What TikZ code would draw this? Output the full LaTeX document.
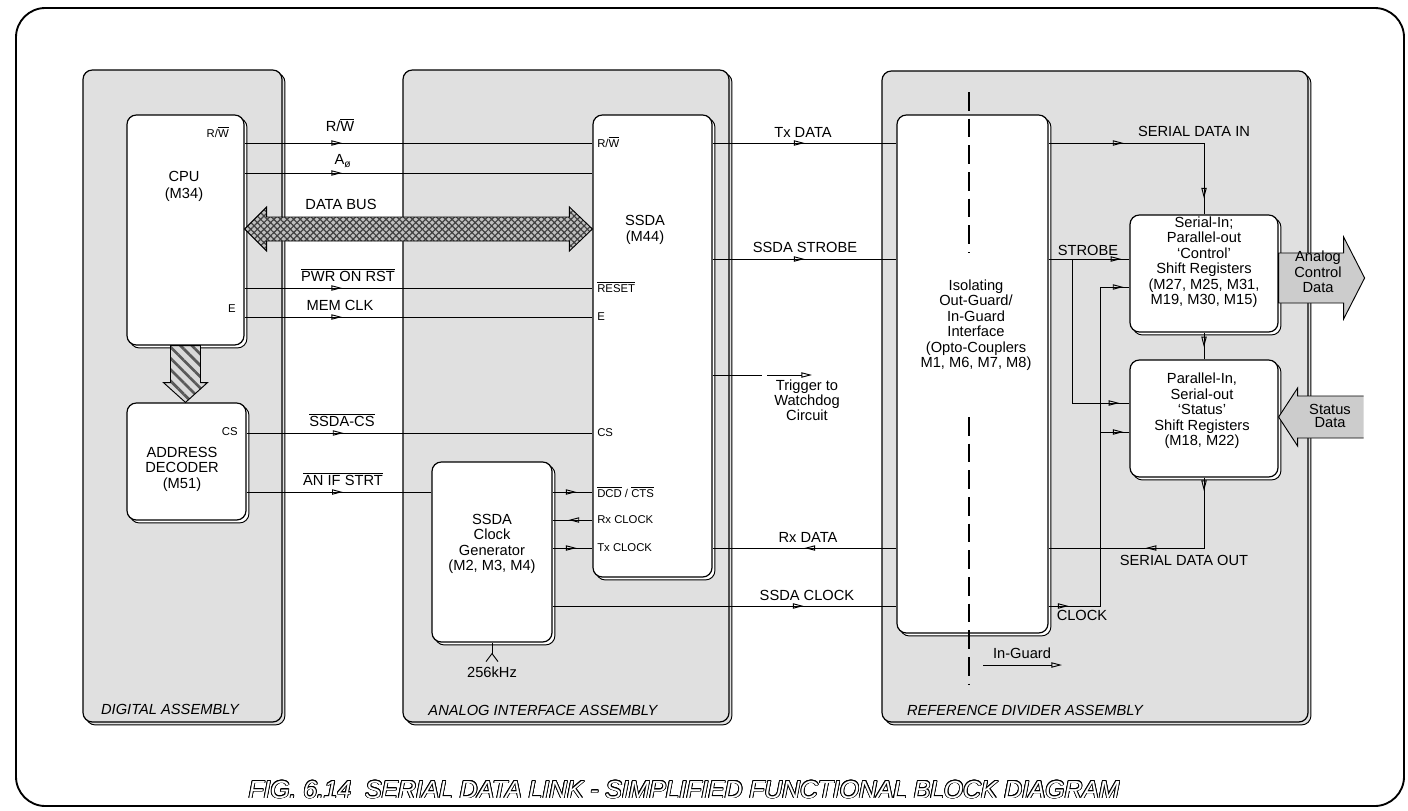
\documentclass[tikz,border=0pt]{standalone}
\usepackage{fontspec}
\setmainfont{Liberation Sans}
\usepackage{contour}
\usetikzlibrary{arrows.meta,decorations.markings,patterns,patterns.meta,shadows,calc}
\newcommand\ovl[1]{$\overline{\mbox{#1}}$}
\contourlength{0.6pt}
\begin{document}
\begin{tikzpicture}[x=0.75pt,y=-0.75pt,
  panel/.style={draw,line width=0.9pt,fill=black!12,rounded corners=7pt,inner sep=0pt,
    general shadow={shadow xshift=2.2pt,shadow yshift=-2.2pt,draw=black,line width=0.7pt,fill=black!12}},
  box/.style={draw,line width=0.9pt,fill=white,rounded corners=7pt,inner sep=0pt,
    general shadow={shadow xshift=2.2pt,shadow yshift=-2.2pt,draw=black,line width=0.7pt,fill=white}},
  conn/.style={line width=0.7pt},
  >={Triangle[open,length=8pt,width=4pt]},
  marr/.style={postaction={decorate,decoration={markings,mark=at position #1 with {\arrow{>}}}}},
  lbl/.style={font=\fontsize{11}{11}\selectfont,inner sep=0pt},
  pin/.style={font=\fontsize{8.5}{9}\selectfont,inner sep=0pt},
  boxtxt/.style={font=\fontsize{11}{11.6}\selectfont,align=center,inner sep=0pt},
  plabel/.style={font=\fontsize{11}{11}\selectfont\itshape,inner sep=0pt},
  gline/.style={line width=0.9pt,dash pattern=on 14pt off 6pt},
  bigarrow/.style={draw,line width=0.7pt,fill=black!20},
]
\useasboundingbox (0,0) rectangle (1408,810);
% outer frame
\draw[line width=1.4pt,rounded corners=22pt] (16,8) rectangle (1404,806);

% panels
\node[panel,minimum width=149.25pt,minimum height=489pt] (dig) at (182.5,396) {};
\node[panel,minimum width=244.5pt,minimum height=489pt] (ana) at (566,396) {};
\node[panel,minimum width=319.5pt,minimum height=488.25pt] (ref) at (1095,396.5) {};

% boxes
\node[box,minimum width=87.75pt,minimum height=172.5pt] (cpu) at (185.5,230) {};
\node[box,minimum width=89.25pt,minimum height=87.75pt] (addr) at (186.5,461.5) {};
\node[box,minimum width=89.25pt,minimum height=346.5pt] (ssda) at (652.5,346) {};
\node[box,minimum width=90pt,minimum height=135pt] (clk) at (492,552) {};
\node[box,minimum width=113.25pt,minimum height=388.5pt] (iso) at (972.5,374) {};
\node[box,minimum width=111pt,minimum height=87.75pt] (ctrl) at (1204,273.5) {};
\node[box,minimum width=111pt,minimum height=87.75pt] (stat) at (1204,418.5) {};

% level coordinates
\coordinate (yRW) at (0,143);
\coordinate (yA) at (0,173);
\coordinate (yBUS) at (0,229);
\coordinate (yPWR) at (0,288);
\coordinate (yMEM) at (0,317);
\coordinate (yCS) at (0,433);
\coordinate (yAN) at (0,492);
\coordinate (yRxC) at (0,520);
\coordinate (yTxC) at (0,548);
\coordinate (ySTR) at (0,259);
\coordinate (yTRIG) at (0,375);
\coordinate (yRxD) at (0,548);
\coordinate (ySCLK) at (0,606);
\coordinate (yST2) at (0,403);
\coordinate (yCS2) at (0,432);
\coordinate (yACD) at (0,278);
\coordinate (ySD) at (0,417);
\coordinate (strJ) at (1072,259);
\coordinate (cv) at (1100,287);
\coordinate (trigA) at (762,375);
\coordinate (trigB) at (767,375);
\coordinate (trigEnd) at (812,375);
\coordinate (ig1) at (983,665);
\coordinate (ig2) at (1062,665);
\coordinate (d1) at (969,92);
\coordinate (d2) at (969,253);
\coordinate (d3) at (969,417);
\coordinate (d4) at (969,685);

% hatched arrow CPU -> address decoder
\draw[line width=0.7pt,preaction={fill=black!15},pattern={Lines[angle=-45,distance=6pt,line width=2pt]},pattern color=black!65]
  ($(cpu.south)+(-15,0)$) -- ($(cpu.south)+(15,0)$) -- ($(cpu.south)+(15,37)$) -- ($(cpu.south)+(22,37)$)
  -- (cpu.south |- addr.north) -- ($(cpu.south)+(-22,37)$) -- ($(cpu.south)+(-15,37)$) -- cycle;

% data bus double arrow
\coordinate (busL) at (cpu.east |- yBUS);
\coordinate (busR) at (ssda.west |- yBUS);
\draw[line width=0.7pt,preaction={fill=black!25},pattern={Hatch[angle=45,distance=3.5pt,line width=0.9pt]},pattern color=black!75]
  (busL) -- ($(busL)+(22,-22)$) -- ($(busL)+(22,-12)$) -- ($(busR)+(-23,-12)$) -- ($(busR)+(-23,-22)$)
  -- (busR) -- ($(busR)+(-23,22)$) -- ($(busR)+(-23,12)$) -- ($(busL)+(22,12)$) -- ($(busL)+(22,22)$) -- cycle;

% analog control data arrow
\coordinate (acd) at (ctrl.east |- yACD);
\draw[bigarrow] ($(acd)+(0,-25)$) -- ($(acd)+(65,-25)$) -- ($(acd)+(65,-41)$) -- ($(acd)+(86,0)$)
  -- ($(acd)+(65,41)$) -- ($(acd)+(65,25)$) -- ($(acd)+(0,25)$) -- cycle;
% status data arrow
\coordinate (sdt) at (stat.east |- ySD);
\fill[black!20] (sdt) -- ($(sdt)+(19,-29)$) -- ($(sdt)+(19,-21)$) -- ($(sdt)+(85,-21)$) -- ($(sdt)+(85,21)$)
  -- ($(sdt)+(19,21)$) -- ($(sdt)+(19,29)$) -- cycle;
\draw[line width=0.7pt] ($(sdt)+(85,-21)$) -- ($(sdt)+(19,-21)$) -- ($(sdt)+(19,-29)$) -- (sdt)
  -- ($(sdt)+(19,29)$) -- ($(sdt)+(19,21)$) -- ($(sdt)+(85,21)$);

% connectors: digital -> analog
\draw[conn,marr=0.28] (cpu.east |- yRW) -- (ssda.west |- yRW);
\draw[conn,marr=0.28] (cpu.east |- yA) -- (ssda.west |- yA);
\draw[conn,marr=0.28] (cpu.east |- yPWR) -- (ssda.west |- yPWR);
\draw[conn,marr=0.28] (cpu.east |- yMEM) -- (ssda.west |- yMEM);
\draw[conn,marr=0.28] (addr.east |- yCS) -- (ssda.west |- yCS);
\draw[conn,marr=0.52] (addr.east |- yAN) -- (clk.west |- yAN);
\draw[conn,marr=0.6] (clk.east |- yAN) -- (ssda.west |- yAN);
\draw[conn,marr=0.6] (ssda.west |- yRxC) -- (clk.east |- yRxC);
\draw[conn,marr=0.6] (clk.east |- yTxC) -- (ssda.west |- yTxC);
% analog -> reference
\draw[conn,marr=0.5] (ssda.east |- yRW) -- (iso.west |- yRW);
\draw[conn,marr=0.5] (ssda.east |- ySTR) -- (iso.west |- ySTR);
\draw[conn] (ssda.east |- yTRIG) -- (trigA);
\draw[conn,->] (trigB) -- (trigEnd);
\draw[conn,marr=0.5] (iso.west |- yRxD) -- (ssda.east |- yRxD);
\draw[conn,marr=0.73] (clk.east |- ySCLK) -- (iso.west |- ySCLK);
% 256 kHz input
\draw[conn] (clk.south) -- ($(clk.south)+(0,11)$);
\draw[conn] ($(clk.south)+(-6,19)$) -- ($(clk.south)+(0,11)$) -- ($(clk.south)+(6,19)$);
% reference side
\draw[conn,marr=0.33,marr=0.93] (iso.east |- yRW) -| (ctrl.north);
\draw[conn,marr=0.9] (iso.east |- ySTR) -- (ctrl.west |- ySTR);
\draw[conn,marr=0.95] (strJ) |- (stat.west |- yST2);
\draw[conn,marr=0.05,marr=0.985] (iso.east |- ySCLK) -| (cv) -- (ctrl.west |- cv);
\draw[conn,marr=0.8] (cv |- yCS2) -- (stat.west |- yCS2);
\draw[conn,marr=0.55] (ctrl.south) -- (stat.north);
\draw[conn,marr=0.06,marr=0.57] (stat.south) |- (iso.east |- yRxD);
\draw[conn,->] (ig1) -- (ig2);
% guard line
\draw[gline] (d1) -- (d2);
\draw[gline] (d3) -- (d4);

% box texts
\node[boxtxt,font=\fontsize{11}{12.8}\selectfont] (tCPU) at (184,186) {CPU\\(M34)};
\node[boxtxt] (tADDR) at (182,469) {ADDRESS\\DECODER\\(M51)};
\node[boxtxt] (tSSDA) at (645,230) {SSDA\\(M44)};
\node[boxtxt] (tCLK) at (492,544) {SSDA\\Clock\\Generator\\(M2, M3, M4)};
\node[boxtxt] (tISO) at (976,325) {Isolating\\Out-Guard/\\In-Guard\\Interface\\(Opto-Couplers\\M1, M6, M7, M8)};
\node[boxtxt] (tCTRL) at (1204,262) {Serial-In;\\Parallel-out\\`Control'\\Shift Registers\\(M27, M25, M31,\\M19, M30, M15)};
\node[boxtxt] (tSTAT) at (1202,411) {Parallel-In,\\Serial-out\\`Status'\\Shift Registers\\(M18, M22)};
\node[boxtxt] (tACD) at (1318,272) {Analog\\Control\\Data};
\node[boxtxt,font=\fontsize{11}{10}\selectfont] (tSD) at (1330,416) {Status\\Data};

% pin labels
\node[pin,anchor=east] (pRW1) at (229,132) {R/\ovl{W}};
\node[pin,anchor=east] (pE1) at (236,309) {E};
\node[pin,anchor=east] (pCS1) at (238,432) {CS};
\node[pin,anchor=west] (pRW2) at (597,142) {R/\ovl{W}};
\node[pin,anchor=west] (pRST) at (597,287) {\ovl{RESET}};
\node[pin,anchor=west] (pE2) at (597,317) {E};
\node[pin,anchor=west] (pCS2) at (597,433) {CS};
\node[pin,anchor=west] (pDCD) at (597,492) {\ovl{DCD} / \ovl{CTS}};
\node[pin,anchor=west] (pRx) at (597,520) {Rx CLOCK};
\node[pin,anchor=west] (pTx) at (597,548) {Tx CLOCK};

% connector labels
\node[lbl] (lRW) at (340,125) {R/\ovl{W}};
\node[lbl] (lA0) at (343,161) {A\textsubscript{ø}};
\node[lbl] (lBUS) at (341,204) {DATA BUS};
\node[lbl] (lPWR) at (348,275) {\ovl{PWR ON RST}};
\node[lbl] (lMEM) at (340,305) {MEM CLK};
\node[lbl] (lCS) at (342,420) {\ovl{SSDA-CS}};
\node[lbl] (lAN) at (343,479) {\ovl{AN IF STRT}};
\node[lbl] (lTx) at (803,132) {Tx DATA};
\node[lbl] (lSTR) at (805,247) {SSDA STROBE};
\node[lbl,align=center,font=\fontsize{11}{11.3}\selectfont] (lTrig) at (807,400) {Trigger to\\Watchdog\\Circuit};
\node[lbl] (lRx) at (808,537) {Rx DATA};
\node[lbl] (lSC) at (807,595) {SSDA CLOCK};
\node[lbl] (lSDI) at (1194,131) {SERIAL DATA IN};
\node[lbl] (lSTB) at (1088,250) {STROBE};
\node[lbl] (lSDO) at (1184,560) {SERIAL DATA OUT};
\node[lbl] (lCLK) at (1082,615) {CLOCK};
\node[lbl] (lIG) at (1022,653) {In-Guard};
\node[lbl] (l256) at (492,672) {256kHz};

% panel labels
\node[plabel] (lDig) at (170,709) {DIGITAL ASSEMBLY};
\node[plabel] (lAna) at (543,710) {ANALOG INTERFACE ASSEMBLY};
\node[plabel] (lRef) at (1025,710) {REFERENCE DIVIDER ASSEMBLY};

% caption
\node[text=white,font=\fontsize{18.5}{20}\selectfont\itshape,inner sep=0pt] (cap) at (684,790)
  {\contour{black}{FIG. 6.14\ \ SERIAL DATA LINK - SIMPLIFIED FUNCTIONAL BLOCK DIAGRAM}};
\end{tikzpicture}
\end{document}
